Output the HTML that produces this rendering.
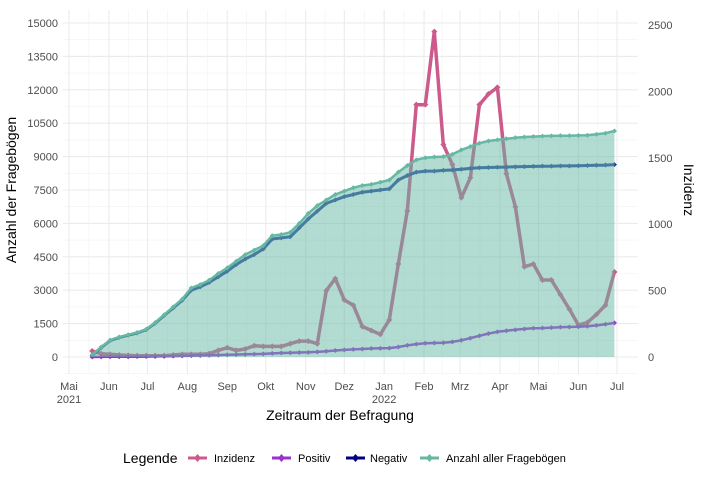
<!DOCTYPE html>
<html><head><meta charset="utf-8"><style>
html,body{margin:0;padding:0;background:#fff}
svg{display:block;font-family:"Liberation Sans",Arial,sans-serif}
</style></head><body>
<svg id="chart" width="701" height="484" viewBox="0 0 701 484">
<g id="grid"></g>
<g id="marks"></g>
<g id="axes"></g>
<text x="16" y="190" transform="rotate(-90 16 190)" text-anchor="middle" font-size="14" fill="#000">Anzahl der Fragebögen</text>
<text x="684" y="190" transform="rotate(90 684 190)" text-anchor="middle" font-size="14" fill="#000">Inzidenz</text>
<text x="340" y="420" text-anchor="middle" font-size="14" fill="#000">Zeitraum der Befragung</text>
<g>
<text x="123" y="463" font-size="14" fill="#000">Legende</text>
<g><line x1="188" y1="458" x2="207" y2="458" stroke="#cc5b8c" stroke-width="3"/><path d="M197.5 454 L201 458 L197.5 462 L194 458Z" fill="#cc5b8c"/><text x="214" y="462" font-size="11" fill="#000">Inzidenz</text></g>
<g><line x1="272" y1="458" x2="291" y2="458" stroke="#9933cc" stroke-width="3"/><path d="M281.5 454 L285 458 L281.5 462 L278 458Z" fill="#9933cc"/><text x="298" y="462" font-size="11" fill="#000">Positiv</text></g>
<g><line x1="346" y1="458" x2="365" y2="458" stroke="#000080" stroke-width="3"/><path d="M355.5 454 L359 458 L355.5 462 L352 458Z" fill="#000080"/><text x="370" y="462" font-size="11" fill="#000">Negativ</text></g>
<g><line x1="420" y1="458" x2="439" y2="458" stroke="#66b8a4" stroke-width="3"/><path d="M429.5 454 L433 458 L429.5 462 L426 458Z" fill="#66b8a4"/><text x="446" y="462" font-size="11" fill="#000">Anzahl aller Fragebögen</text></g>
</g>
</svg>
<script>
const dates = ["2021-05-19","2021-05-26","2021-06-02","2021-06-09","2021-06-16","2021-06-23","2021-06-30","2021-07-07","2021-07-14","2021-07-21","2021-07-28","2021-08-04","2021-08-11","2021-08-18","2021-08-25","2021-09-01","2021-09-08","2021-09-15","2021-09-22","2021-09-29","2021-10-06","2021-10-13","2021-10-20","2021-10-27","2021-11-03","2021-11-10","2021-11-17","2021-11-24","2021-12-01","2021-12-08","2021-12-15","2021-12-22","2021-12-29","2022-01-05","2022-01-12","2022-01-19","2022-01-26","2022-02-02","2022-02-09","2022-02-16","2022-02-23","2022-03-02","2022-03-09","2022-03-16","2022-03-23","2022-03-30","2022-04-06","2022-04-13","2022-04-20","2022-04-27","2022-05-04","2022-05-11","2022-05-18","2022-05-25","2022-06-01","2022-06-08","2022-06-15","2022-06-22","2022-06-29"];
const anzahl = [100,450,760,900,1000,1100,1250,1550,1900,2250,2600,3100,3250,3450,3750,4000,4300,4600,4800,5000,5450,5500,5600,6000,6450,6800,7050,7300,7450,7600,7700,7750,7850,7950,8300,8600,8850,8950,8980,9000,9100,9300,9450,9600,9700,9750,9800,9850,9880,9900,9920,9930,9940,9940,9950,9960,10000,10050,10150];
const negativ = [80,420,740,880,980,1080,1230,1520,1870,2200,2550,3000,3150,3350,3600,3850,4150,4400,4600,4850,5300,5350,5400,5800,6200,6550,6900,7050,7200,7300,7400,7450,7500,7550,7950,8150,8300,8350,8350,8380,8400,8430,8470,8500,8510,8520,8530,8540,8550,8560,8570,8570,8580,8580,8590,8600,8610,8620,8640];
const positiv = [0,5,10,10,10,15,20,25,30,40,50,60,70,80,90,100,110,120,130,140,160,180,190,200,210,230,260,290,320,340,360,380,390,400,450,520,580,620,630,640,680,750,850,950,1050,1130,1180,1220,1260,1290,1300,1320,1340,1350,1360,1380,1420,1470,1530];
const inzidenz = [45,25,20,15,12,10,10,10,10,15,20,20,20,25,50,70,50,60,85,80,80,80,100,120,120,100,500,590,430,390,230,200,170,280,700,1100,1900,1900,2450,1600,1450,1200,1350,1900,1980,2030,1380,1130,680,700,580,580,470,360,240,260,320,390,640];
const leftTicks = [0,1500,3000,4500,6000,7500,9000,10500,12000,13500,15000];
const rightTicks = [0,500,1000,1500,2000,2500];
const monthTicks = ["2021-05-01","2021-06-01","2021-07-01","2021-08-01","2021-09-01","2021-10-01","2021-11-01","2021-12-01","2022-01-01","2022-02-01","2022-03-01","2022-04-01","2022-05-01","2022-06-01","2022-07-01"];
const monthLabels = ["Mai\n2021","Jun","Jul","Aug","Sep","Okt","Nov","Dez","Jan\n2022","Feb","Mrz","Apr","Mai","Jun","Jul"];

const NS="http://www.w3.org/2000/svg";
const X0=63,X1=638,Y0=10,Y1=374;
const t0=Date.UTC(2021,4,1);
function day(s){const p=s.split("-");return (Date.UTC(+p[0],+p[1]-1,+p[2])-t0)/864e5;}
function xs(s){return 69+day(s)*1.2864;}
function yl(v){return 357-v*0.022267;}
function yr(v){return 357-v*0.1328;}
function mk(tag,attrs,parent){const e=document.createElementNS(NS,tag);for(const k in attrs)e.setAttribute(k,attrs[k]);parent.appendChild(e);return e;}
const grid=document.getElementById("grid"),marks=document.getElementById("marks"),axes=document.getElementById("axes");
// horizontal grid
for(let i=0;i<leftTicks.length;i++){
 const y=yl(leftTicks[i]);
 const g=mk("line",{x1:X0,x2:X1,y1:y,y2:y,stroke:"#ebebeb","stroke-width":1.1},grid);
 
 
 if(i<leftTicks.length-1){const ym=yl((leftTicks[i]+leftTicks[i+1])/2);mk("line",{x1:X0,x2:X1,y1:ym,y2:ym,stroke:"#f2f2f2","stroke-width":0.6},grid);}
 const t=mk("text",{x:58,y:y+4,"text-anchor":"end","font-size":11,fill:"#4d4d4d"},axes);
 
 
 t.textContent=leftTicks[i];
}
mk("line",{x1:X0,x2:X1,y1:yl(-750),y2:yl(-750),stroke:"#f2f2f2","stroke-width":0.6},grid);
for(const v of rightTicks){
 const t=mk("text",{x:648,y:yr(v)+4,"font-size":11,fill:"#4d4d4d"},axes);
 
 
 t.textContent=v;
}
for(let i=0;i<monthTicks.length;i++){
 const x=xs(monthTicks[i]);
 const g=mk("line",{x1:x,x2:x,y1:Y0,y2:Y1,stroke:"#ebebeb","stroke-width":1.1},grid);
 
 
 if(i<monthTicks.length-1){const xm=(x+xs(monthTicks[i+1]))/2;mk("line",{x1:xm,x2:xm,y1:Y0,y2:Y1,stroke:"#f2f2f2","stroke-width":0.6},grid);}
 const lines=monthLabels[i].split("\n");
 lines.forEach((s,j)=>{const t=mk("text",{x:x,y:390+j*13,"text-anchor":"middle","font-size":11,fill:"#4d4d4d"},axes);
 
 
 t.textContent=s;});
}
function pts(arr,f){return arr.map((v,i)=>xs(dates[i]).toFixed(1)+","+f(v).toFixed(1)).join(" ");}
function series(arr,f,color,w,name,ms){
 const g=mk("g",{},marks);
 
 
 mk("polyline",{points:pts(arr,f),fill:"none",stroke:color,"stroke-width":w,"stroke-linejoin":"round"},g);
 arr.forEach((v,i)=>{const x=xs(dates[i]),y=f(v);
  const p=mk("path",{d:`M${x} ${y-ms}L${x+ms} ${y}L${x} ${y+ms}L${x-ms} ${y}Z`,fill:color},g);
  
  });
}
series(inzidenz,yr,"#cc5b8c",3.5,"inzidenz-line",3);
series(positiv,yl,"#9933cc",2.5,"positiv-line",2.5);
series(negativ,yl,"#233f9a",3,"negativ-line",2.5);
const area=mk("polygon",{points:pts(anzahl,yl)+" "+xs(dates[dates.length-1]).toFixed(1)+","+yl(0)+" "+xs(dates[0]).toFixed(1)+","+yl(0),fill:"#66b8a4","fill-opacity":0.5},marks);


series(anzahl,yl,"#66b8a4",2.5,"anzahl-line",2.5);
</script>
</body></html>
